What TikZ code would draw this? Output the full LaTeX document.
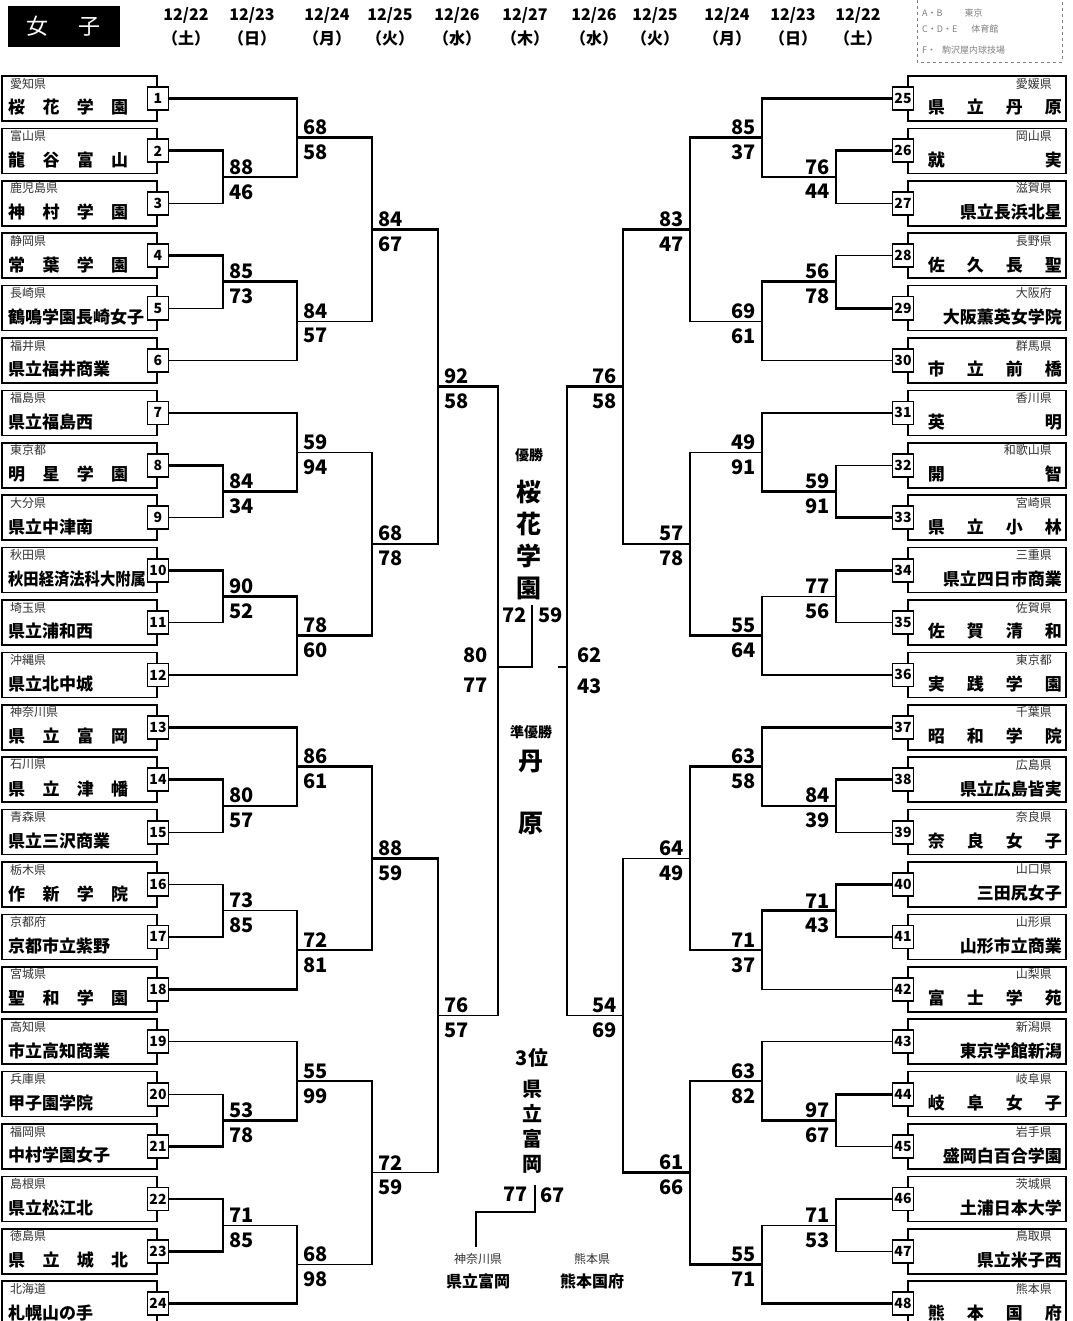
\documentclass[tikz,border=0pt]{standalone}
\usepackage{fontspec}
\setmainfont{Noto Sans CJK JP}
\usepackage{graphicx}
\usetikzlibrary{calc}
\newcommand\LSp[4]{\hbox to 120pt{#1\hfill#2\hfill#3\hfill#4}}
\newcommand\RSp[4]{\hbox to 134pt{#1\hfill#2\hfill#3\hfill#4}}
\newcommand\RSpt[2]{\hbox to 134pt{#1\hfill#2}}
\tikzset{
  win/.style={line width=2.8pt},
  lose/.style={line width=1.2pt},
  namebox/.style={draw, line width=1.7pt, minimum height=45pt, inner sep=0pt},
  numbox/.style={draw, fill=white, line width=1.8pt, minimum width=21pt, minimum height=23pt, inner sep=0pt, font=\fontsize{14}{14}\selectfont\bfseries},
  pref/.style={inner sep=0pt, text=black!80, font=\fontsize{12}{12}\selectfont},
  school/.style={inner sep=0pt, font=\fontsize{17}{17}\selectfont\bfseries},
  score/.style={inner sep=0pt, font=\fontsize{20}{20}\selectfont\bfseries},
  date/.style={inner sep=0pt, font=\fontsize{16}{16}\selectfont\bfseries},
  big/.style={inner sep=0pt, font=\fontsize{25}{25}\selectfont\bfseries},
  small/.style={inner sep=0pt, font=\fontsize{14}{14}\selectfont\bfseries},
}
\newcommand\LT[4]{%
  \node[namebox, minimum width=155pt] (b#1) at (79.5,#2) {};
  \node[pref, anchor=west] (p#1) at (10,#2-15) {#3};
  \node[school, anchor=west] (s#1) at (8,#2+9) {#4};
  \node[numbox] (t#1) at (158,#2) {#1};}
\newcommand\RT[4]{%
  \node[namebox, minimum width=158pt] (b#1) at (987,#2) {};
  \node[pref, anchor=east] (p#1) at (1052,#2-15) {#3};
  \node[school, anchor=east] (s#1) at (1062,#2+9) {#4};
  \node[numbox] (t#1) at (903,#2) {#1};}
\newcommand\mtT[3]{\draw[lose] (#2) -| (#3); \draw[win] (#1) -| (#3);}
\newcommand\mtB[3]{\draw[lose] (#1) -| (#3); \draw[win] (#2) -| (#3);}
\newcommand\scL[3]{%
  \node[score, anchor=south west] (#1-t) at ([xshift=6pt,yshift=2.5pt]#1) {#2};
  \node[score, anchor=north west] (#1-b) at ([xshift=6pt,yshift=-7pt]#1) {#3};}
\newcommand\scR[3]{%
  \node[score, anchor=south east] (#1-t) at ([xshift=-6pt,yshift=2.5pt]#1) {#2};
  \node[score, anchor=north east] (#1-b) at ([xshift=-6pt,yshift=-7pt]#1) {#3};}
\begin{document}
\begin{tikzpicture}[x=1pt,y=-1pt]
\useasboundingbox (0,0) rectangle (1072,1321);
\fill[white] (0,0) rectangle (1072,1321);
% title
\node[fill=black, minimum width=112pt, minimum height=41pt, inner sep=0pt] (title) at (64,26.5) {};
\node[inner sep=0pt, text=white, font=\fontsize{22}{22}\selectfont] (titletext) at (64,26) {女\hspace{30pt}子};
% dates
\foreach \n/\x/\d/\w in {1/186/12\slash 22/土,2/252/12\slash 23/日,3/327/12\slash 24/月,4/390/12\slash 25/火,5/457/12\slash 26/水,6/525/12\slash 27/木,7/594/12\slash 26/水,8/655/12\slash 25/火,9/727/12\slash 24/月,10/793/12\slash 23/日,11/858/12\slash 22/土}{
  \node[date] (d\n) at (\x,15) {\d};
  \node[date] (w\n) at (\x,38) {（\w）};
}
% legend
\draw[dashed, line width=0.8pt, gray] (917,0) -- (917,62) -- (1062,62) -- (1062,0);
\node[inner sep=0pt, anchor=west, text=gray, font=\fontsize{9}{9}\selectfont] (lg1) at (922,13) {A・B\hspace{22pt}東京};
\node[inner sep=0pt, anchor=west, text=gray, font=\fontsize{9}{9}\selectfont] (lg2) at (922,29) {C・D・E\hspace{14pt}体育館};
\node[inner sep=0pt, anchor=west, text=gray, font=\fontsize{9}{9}\selectfont] (lg3) at (922,50) {F・\hspace{6pt}駒沢屋内球技場};
% left teams
\LT{1}{98.5}{愛知県}{\LSp{桜}{花}{学}{園}}
\LT{2}{150.9}{富山県}{\LSp{龍}{谷}{富}{山}}
\LT{3}{203.3}{鹿児島県}{\LSp{神}{村}{学}{園}}
\LT{4}{255.7}{静岡県}{\LSp{常}{葉}{学}{園}}
\LT{5}{308.1}{長崎県}{鶴鳴学園長崎女子}
\LT{6}{360.5}{福井県}{県立福井商業}
\LT{7}{412.9}{福島県}{県立福島西}
\LT{8}{465.3}{東京都}{\LSp{明}{星}{学}{園}}
\LT{9}{517.7}{大分県}{県立中津南}
\LT{10}{570.1}{秋田県}{\scalebox{0.9}[1]{秋田経済法科大附属}}
\LT{11}{622.5}{埼玉県}{県立浦和西}
\LT{12}{674.9}{沖縄県}{県立北中城}
\LT{13}{727.3}{神奈川県}{\LSp{県}{立}{富}{岡}}
\LT{14}{779.7}{石川県}{\LSp{県}{立}{津}{幡}}
\LT{15}{832.1}{青森県}{県立三沢商業}
\LT{16}{884.5}{栃木県}{\LSp{作}{新}{学}{院}}
\LT{17}{936.9}{京都府}{京都市立紫野}
\LT{18}{989.3}{宮城県}{\LSp{聖}{和}{学}{園}}
\LT{19}{1041.7}{高知県}{市立高知商業}
\LT{20}{1094.1}{兵庫県}{甲子園学院}
\LT{21}{1146.5}{福岡県}{中村学園女子}
\LT{22}{1198.9}{島根県}{県立松江北}
\LT{23}{1251.3}{徳島県}{\LSp{県}{立}{城}{北}}
\LT{24}{1303.7}{北海道}{札幌山の手}
% right teams
\RT{25}{98.5}{愛媛県}{\RSp{県}{立}{丹}{原}}
\RT{26}{150.9}{岡山県}{\RSpt{就}{実}}
\RT{27}{203.3}{滋賀県}{県立長浜北星}
\RT{28}{255.7}{長野県}{\RSp{佐}{久}{長}{聖}}
\RT{29}{308.1}{大阪府}{大阪薫英女学院}
\RT{30}{360.5}{群馬県}{\RSp{市}{立}{前}{橋}}
\RT{31}{412.9}{香川県}{\RSpt{英}{明}}
\RT{32}{465.3}{和歌山県}{\RSpt{開}{智}}
\RT{33}{517.7}{宮崎県}{\RSp{県}{立}{小}{林}}
\RT{34}{570.1}{三重県}{県立四日市商業}
\RT{35}{622.5}{佐賀県}{\RSp{佐}{賀}{清}{和}}
\RT{36}{674.9}{東京都}{\RSp{実}{践}{学}{園}}
\RT{37}{727.3}{千葉県}{\RSp{昭}{和}{学}{院}}
\RT{38}{779.7}{広島県}{県立広島皆実}
\RT{39}{832.1}{奈良県}{\RSp{奈}{良}{女}{子}}
\RT{40}{884.5}{山口県}{三田尻女子}
\RT{41}{936.9}{山形県}{山形市立商業}
\RT{42}{989.3}{山梨県}{\RSp{富}{士}{学}{苑}}
\RT{43}{1041.7}{新潟県}{東京学館新潟}
\RT{44}{1094.1}{岐阜県}{\RSp{岐}{阜}{女}{子}}
\RT{45}{1146.5}{岩手県}{盛岡白百合学園}
\RT{46}{1198.9}{茨城県}{土浦日本大学}
\RT{47}{1251.3}{鳥取県}{県立米子西}
\RT{48}{1303.7}{熊本県}{\RSp{熊}{本}{国}{府}}
% left junctions
\coordinate (L23) at (223,177.1);
\coordinate (L45) at (223,281.9);
\coordinate (L89) at (223,491.5);
\coordinate (L1011) at (223,596.3);
\coordinate (L1415) at (223,805.9);
\coordinate (L1617) at (223,910.7);
\coordinate (L2021) at (223,1120.3);
\coordinate (L2223) at (223,1225.1);
\coordinate (La) at (297,137.8);
\coordinate (Lb) at (297,321.2);
\coordinate (Lc) at (297,452.2);
\coordinate (Ld) at (297,635.6);
\coordinate (Le) at (297,766.6);
\coordinate (Lf) at (297,950.0);
\coordinate (Lg) at (297,1081.0);
\coordinate (Lh) at (297,1264.4);
\coordinate (Lab) at (372,229.5);
\coordinate (Lcd) at (372,543.9);
\coordinate (Lef) at (372,858.3);
\coordinate (Lgh) at (372,1172.7);
\coordinate (Labcd) at (438,386.7);
\coordinate (Lefgh) at (438,1015.5);
\coordinate (SL) at (498,667);
\coordinate (F) at (532,605);
% right junctions
\coordinate (R2627) at (836,177.1);
\coordinate (R2829) at (836,281.9);
\coordinate (R3233) at (836,491.5);
\coordinate (R3435) at (836,596.3);
\coordinate (R3839) at (836,805.9);
\coordinate (R4041) at (836,910.7);
\coordinate (R4445) at (836,1120.3);
\coordinate (R4647) at (836,1225.1);
\coordinate (Ra) at (762,137.8);
\coordinate (Rb) at (762,321.2);
\coordinate (Rc) at (762,452.2);
\coordinate (Rd) at (762,635.6);
\coordinate (Re) at (762,766.6);
\coordinate (Rf) at (762,950.0);
\coordinate (Rg) at (762,1081.0);
\coordinate (Rh) at (762,1264.4);
\coordinate (Rab) at (690,229.5);
\coordinate (Rcd) at (690,543.9);
\coordinate (Ref) at (690,858.3);
\coordinate (Rgh) at (690,1172.7);
\coordinate (Rabcd) at (623,386.7);
\coordinate (Refgh) at (623,1015.5);
\coordinate (SR) at (567,667);
\coordinate (Ftick) at (558,667);
% left matches
\mtT{t2.east}{t3.east}{L23}
\mtT{t4.east}{t5.east}{L45}
\mtT{t8.east}{t9.east}{L89}
\mtT{t10.east}{t11.east}{L1011}
\mtT{t14.east}{t15.east}{L1415}
\mtB{t16.east}{t17.east}{L1617}
\mtB{t20.east}{t21.east}{L2021}
\mtB{t22.east}{t23.east}{L2223}
\mtT{t1.east}{L23}{La}
\mtT{L45}{t6.east}{Lb}
\mtB{t7.east}{L89}{Lc}
\mtT{L1011}{t12.east}{Ld}
\mtT{t13.east}{L1415}{Le}
\mtB{L1617}{t18.east}{Lf}
\mtB{t19.east}{L2021}{Lg}
\mtB{L2223}{t24.east}{Lh}
\mtT{La}{Lb}{Lab}
\mtB{Lc}{Ld}{Lcd}
\mtT{Le}{Lf}{Lef}
\mtT{Lg}{Lh}{Lgh}
\mtT{Lab}{Lcd}{Labcd}
\mtT{Lef}{Lgh}{Lefgh}
\mtT{Labcd}{Lefgh}{SL}
\draw[win] (SL) -| (F);
% right matches
\mtT{t26.west}{t27.west}{R2627}
\mtB{t28.west}{t29.west}{R2829}
\mtB{t32.west}{t33.west}{R3233}
\mtT{t34.west}{t35.west}{R3435}
\mtT{t38.west}{t39.west}{R3839}
\mtT{t40.west}{t41.west}{R4041}
\mtT{t44.west}{t45.west}{R4445}
\mtT{t46.west}{t47.west}{R4647}
\mtT{t25.west}{R2627}{Ra}
\mtT{R2829}{t30.west}{Rb}
\mtB{t31.west}{R3233}{Rc}
\mtB{R3435}{t36.west}{Rd}
\mtT{t37.west}{R3839}{Re}
\mtT{R4041}{t42.west}{Rf}
\mtB{t43.west}{R4445}{Rg}
\mtB{R4647}{t48.west}{Rh}
\mtT{Ra}{Rb}{Rab}
\mtB{Rc}{Rd}{Rcd}
\mtT{Re}{Rf}{Ref}
\mtB{Rg}{Rh}{Rgh}
\mtT{Rab}{Rcd}{Rabcd}
\mtB{Ref}{Rgh}{Refgh}
\mtT{Rabcd}{Refgh}{SR}
\draw[lose] (SR) -- (Ftick);
% left scores
\scL{L23}{88}{46}
\scL{L45}{85}{73}
\scL{L89}{84}{34}
\scL{L1011}{90}{52}
\scL{L1415}{80}{57}
\scL{L1617}{73}{85}
\scL{L2021}{53}{78}
\scL{L2223}{71}{85}
\scL{La}{68}{58}
\scL{Lb}{84}{57}
\scL{Lc}{59}{94}
\scL{Ld}{78}{60}
\scL{Le}{86}{61}
\scL{Lf}{72}{81}
\scL{Lg}{55}{99}
\scL{Lh}{68}{98}
\scL{Lab}{84}{67}
\scL{Lcd}{68}{78}
\scL{Lef}{88}{59}
\scL{Lgh}{72}{59}
\scL{Labcd}{92}{58}
\scL{Lefgh}{76}{57}
% right scores
\scR{R2627}{76}{44}
\scR{R2829}{56}{78}
\scR{R3233}{59}{91}
\scR{R3435}{77}{56}
\scR{R3839}{84}{39}
\scR{R4041}{71}{43}
\scR{R4445}{97}{67}
\scR{R4647}{71}{53}
\scR{Ra}{85}{37}
\scR{Rb}{69}{61}
\scR{Rc}{49}{91}
\scR{Rd}{55}{64}
\scR{Re}{63}{58}
\scR{Rf}{71}{37}
\scR{Rg}{63}{82}
\scR{Rh}{55}{71}
\scR{Rab}{83}{47}
\scR{Rcd}{57}{78}
\scR{Ref}{64}{49}
\scR{Rgh}{61}{66}
\scR{Rabcd}{76}{58}
\scR{Refgh}{54}{69}
% semis and final
\node[score, anchor=south east] (SL-t) at ([xshift=-10pt,yshift=4pt]SL) {80};
\node[score, anchor=north east] (SL-b) at ([xshift=-10pt,yshift=-11pt]SL) {77};
\node[score, anchor=south west] (SR-t) at ([xshift=10pt,yshift=4pt]SR) {62};
\node[score, anchor=north west] (SR-b) at ([xshift=10pt,yshift=-11pt]SR) {43};
\node[score, anchor=north east] (F-t) at ([xshift=-5pt,yshift=-2pt]F) {72};
\node[score, anchor=north west] (F-b) at ([xshift=6pt,yshift=-2pt]F) {59};
% center labels
\node[small] (yusho) at (529,455) {優勝};
\node[big, align=center, font=\fontsize{25}{32}\selectfont\bfseries] (champ) at (529,540) {桜\\花\\学\\園};
\node[small] (junyusho) at (531,732) {準優勝};
\node[big] (tan) at (531,761) {丹};
\node[big] (hara) at (531,823) {原};
\node[inner sep=0pt, font=\fontsize{20}{20}\selectfont\bfseries] (third) at (532,1058) {3位};
\node[inner sep=0pt, align=center, font=\fontsize{20}{25}\selectfont\bfseries] (thirdname) at (532,1127) {県\\立\\富\\岡};
% third place match
\coordinate (T3a) at (535,1185);
\coordinate (T3k) at (535,1212);
\coordinate (T3b) at (476,1247);
\draw[win] (T3a) -- (T3k) -| (T3b);
\node[score, anchor=north east] (T3-t) at ([xshift=-7pt,yshift=-2pt]T3a) {77};
\node[score, anchor=north west] (T3-b) at ([xshift=5pt,yshift=-2pt]T3a) {67};
\node[pref] (T3p1) at (478,1259) {神奈川県};
\node[inner sep=0pt, font=\fontsize{16}{16}\selectfont\bfseries] (T3s1) at (478,1281) {県立富岡};
\node[pref] (T3p2) at (592,1259) {熊本県};
\node[inner sep=0pt, font=\fontsize{16}{16}\selectfont\bfseries] (T3s2) at (592,1281) {熊本国府};
\end{tikzpicture}
\end{document}
